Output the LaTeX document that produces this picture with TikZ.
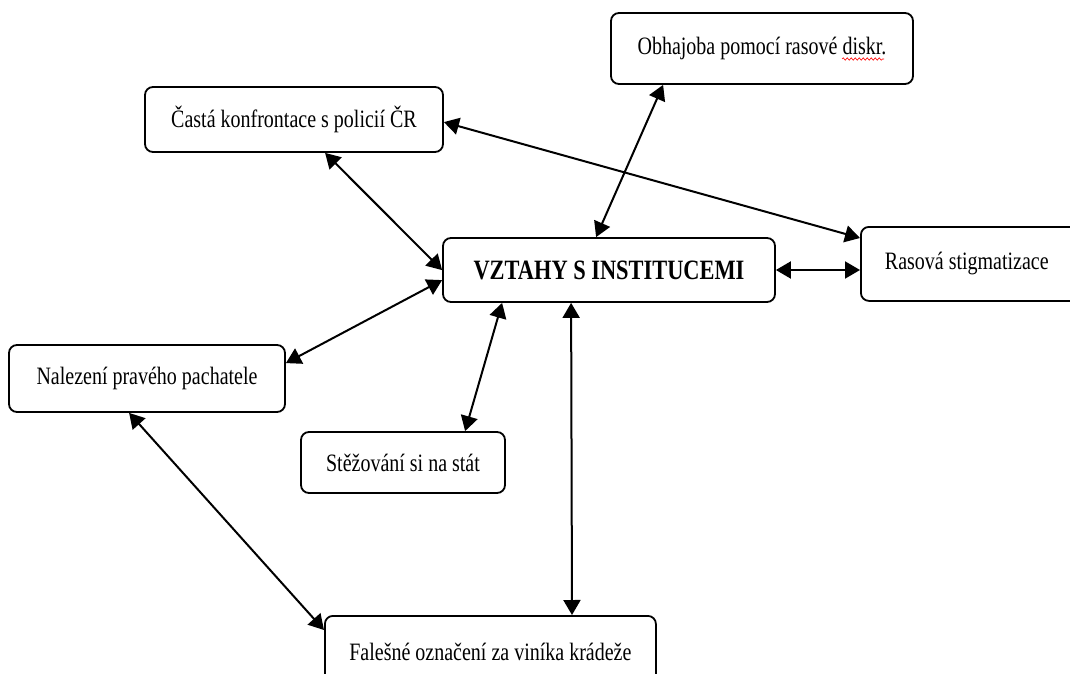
\documentclass[tikz,border=0pt]{standalone}
\usepackage{fontspec}
\setmainfont{Liberation Serif}[FakeStretch=0.8]
\usetikzlibrary{arrows.meta,decorations.pathmorphing}
\begin{document}
\begin{tikzpicture}[x=1pt,y=-1pt,
  box/.style={draw,line width=1.8pt,rounded corners=8pt,inner sep=0pt,
    font=\fontsize{25}{29}\selectfont},
  link/.style={line width=2pt,{Triangle[length=15pt,width=17pt]}-{Triangle[length=15pt,width=17pt]}}]
\useasboundingbox (0,0) rectangle (1070,674);
% boxes
\node[box,minimum width=302pt,minimum height=71pt] (ob) at (762,48.5) {Obhajoba pomocí rasové diskr.};
\node[box,minimum width=298pt,minimum height=65pt] (ca) at (294,119.5) {Častá konfrontace s policií ČR};
\node[box,minimum width=332pt,minimum height=64pt,font=\fontsize{28}{32}\selectfont\bfseries] (vz) at (609,270) {VZTAHY S INSTITUCEMI};
\node[box,anchor=north west,minimum height=74pt,inner xsep=24pt,inner ysep=0pt] (ra) at (860,226) {\raisebox{4pt}{\makebox[190pt][l]{Rasová stigmatizace}}};
\node[box,minimum width=276pt,minimum height=67pt] (na) at (147,378.5) {Nalezení pravého pachatele};
\node[box,minimum width=204pt,minimum height=61pt] (st) at (403,462.5) {Stěžování si na stát};
\node[box,anchor=north west,minimum width=331pt,minimum height=72pt] (fa) at (324,615) {Falešné označení za viníka krádeže};
% spell-check underline
\coordinate (sq1) at (842,59);
\coordinate (sq2) at (884,59);
\draw[red,line width=0.6pt,decorate,decoration={snake,amplitude=1.2pt,segment length=4pt}] (sq1) -- (sq2);
% connectors
\draw[link] ([xshift=53pt]ob.south west) -- ([xshift=154pt]vz.north west);
\draw[link] ([yshift=-36pt]ca.north east) -- ([yshift=-12pt]ra.north west);
\draw[link] ([xshift=181pt]ca.south west) -- ([yshift=-33pt]vz.north west);
\draw[link] (vz.east) -- (vz.east -| ra.west);
\draw[link] ([yshift=-19pt]na.north east) -- ([yshift=-43pt]vz.north west);
\draw[link] ([xshift=60pt]vz.south west) -- ([xshift=165pt]st.north west);
\draw[link] ([xshift=129pt]vz.south west) -- ([xshift=248pt]fa.north west);
\draw[link] ([xshift=121pt]na.south west) -- ([yshift=-15pt]fa.north west);
\end{tikzpicture}
\end{document}
